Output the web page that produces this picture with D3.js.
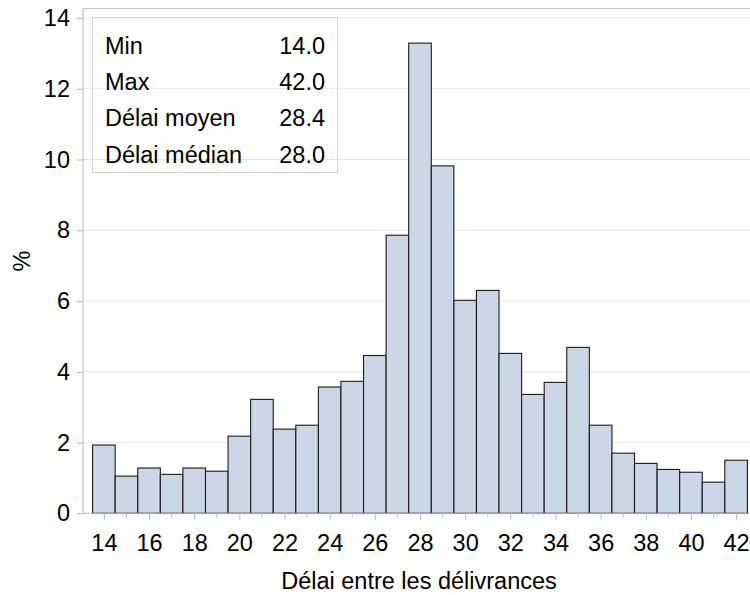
<!DOCTYPE html>
<html>
<head>
<meta charset="utf-8">
<script src="https://cdn.jsdelivr.net/npm/d3@7"></script>
<style>
  html, body { margin: 0; padding: 0; background: #fff; }
  svg { display: block; font-family: "Liberation Sans", Arial, sans-serif; }
</style>
</head>
<body>
<svg id="chart" width="750" height="595"></svg>
<script>
// Delay between deliveries (days) and share of deliveries (%)
const delays = [14, 15, 16, 17, 18, 19, 20, 21, 22, 23, 24, 25, 26, 27, 28,
                29, 30, 31, 32, 33, 34, 35, 36, 37, 38, 39, 40, 41, 42];
const percents = [1.93, 1.05, 1.28, 1.10, 1.28, 1.19, 2.18, 3.22, 2.38, 2.49,
                  3.57, 3.73, 4.46, 7.86, 13.29, 9.82, 6.02, 6.30, 4.52, 3.36,
                  3.70, 4.69, 2.49, 1.70, 1.41, 1.24, 1.16, 0.88, 1.50];
const xMajorTicks = [14, 16, 18, 20, 22, 24, 26, 28, 30, 32, 34, 36, 38, 40, 42];
const xMinorTicks = [15, 17, 19, 21, 23, 25, 27, 29, 31, 33, 35, 37, 39, 41];
const yTicks = [0, 2, 4, 6, 8, 10, 12, 14];
const statLabels = ["Min", "Max", "Délai moyen", "Délai médian"];
const statValues = ["14.0", "42.0", "28.4", "28.0"];

const FONT = 23.5;
const svg = d3.select("#chart");
const frame = { left: 83, right: 750, top: 8.5, bottom: 513.3 };

const x = d3.scaleLinear().domain([13.5, 42.5]).range([92.6, 747.4]);
const y = d3.scaleLinear().domain([0, 14]).range([frame.bottom, 18]);

// horizontal grid
svg.append("g")
  .selectAll("line")
  .data(yTicks.filter(d => d > 0))
  .join("line")
  .attr("x1", frame.left).attr("x2", frame.right)
  .attr("y1", d => y(d)).attr("y2", d => y(d))
  .attr("stroke", "#e6e6e6").attr("stroke-width", 1);

// plot frame (top edge)
svg.append("line")
  .attr("x1", frame.left).attr("x2", frame.right)
  .attr("y1", frame.top).attr("y2", frame.top)
  .attr("stroke", "#c4c4c4").attr("stroke-width", 1.2);

// histogram bars
const binWidth = 1;
svg.append("g")
  .selectAll("rect")
  .data(delays.map((d, i) => ({ d, v: percents[i] })))
  .join("rect")
  .attr("x", p => x(p.d - binWidth / 2))
  .attr("width", p => x(p.d + binWidth / 2) - x(p.d - binWidth / 2))
  .attr("y", p => y(p.v))
  .attr("height", p => y(0) - y(p.v))
  .attr("fill", "#cbd6e6")
  .attr("stroke", "#1a1a1a")
  .attr("stroke-width", 1.1);

// y axis
const yAxis = svg.append("g")
  .attr("transform", `translate(${frame.left},0)`)
  .call(d3.axisLeft(y).tickValues(yTicks).tickSize(6).tickPadding(7).tickFormat(d3.format("d")));
yAxis.select(".domain").attr("stroke", "#b8b8b8").attr("d", `M0,${frame.top}V${frame.bottom}`);
yAxis.selectAll(".tick line").attr("stroke", "#b8b8b8");
yAxis.selectAll(".tick text")
  .attr("font-size", FONT).attr("fill", "#000")
  .attr("font-family", "Liberation Sans, Arial, sans-serif");

// x axis: labelled major ticks
const xAxis = svg.append("g")
  .attr("transform", `translate(0,${frame.bottom})`)
  .call(d3.axisBottom(x).tickValues(xMajorTicks).tickSize(7).tickPadding(14).tickFormat(d3.format("d")));
xAxis.select(".domain").attr("stroke", "#b8b8b8").attr("d", `M${frame.left},0H${frame.right}`);
xAxis.selectAll(".tick line").attr("stroke", "#b8b8b8");
xAxis.selectAll(".tick text")
  .attr("font-size", FONT).attr("fill", "#000")
  .attr("font-family", "Liberation Sans, Arial, sans-serif");

// x axis: minor ticks
svg.append("g")
  .attr("transform", `translate(0,${frame.bottom})`)
  .selectAll("line")
  .data(xMinorTicks)
  .join("line")
  .attr("x1", d => x(d)).attr("x2", d => x(d))
  .attr("y1", 0).attr("y2", 4)
  .attr("stroke", "#b8b8b8");

// axis titles
svg.append("text")
  .attr("x", 419).attr("y", 589)
  .attr("text-anchor", "middle")
  .attr("font-size", FONT)
  .text("Délai entre les délivrances");

svg.append("text")
  .attr("transform", "translate(30,261) rotate(-90)")
  .attr("text-anchor", "middle")
  .attr("font-size", FONT)
  .text("%");

// statistics inset
const inset = svg.append("g");
inset.append("rect")
  .attr("x", 92.5).attr("y", 17.5)
  .attr("width", 245).attr("height", 155)
  .attr("fill", "none")
  .attr("stroke", "#d4d4d4").attr("stroke-width", 1);

const rowBase = [54, 90.2, 126.4, 162.7];
inset.selectAll("text.label")
  .data(statLabels)
  .join("text")
  .attr("class", "label")
  .attr("x", 105).attr("y", (d, i) => rowBase[i])
  .attr("font-size", FONT)
  .text(d => d);
inset.selectAll("text.value")
  .data(statValues)
  .join("text")
  .attr("class", "value")
  .attr("x", 325).attr("y", (d, i) => rowBase[i])
  .attr("text-anchor", "end")
  .attr("font-size", FONT)
  .text(d => d);
</script>
</body>
</html>
